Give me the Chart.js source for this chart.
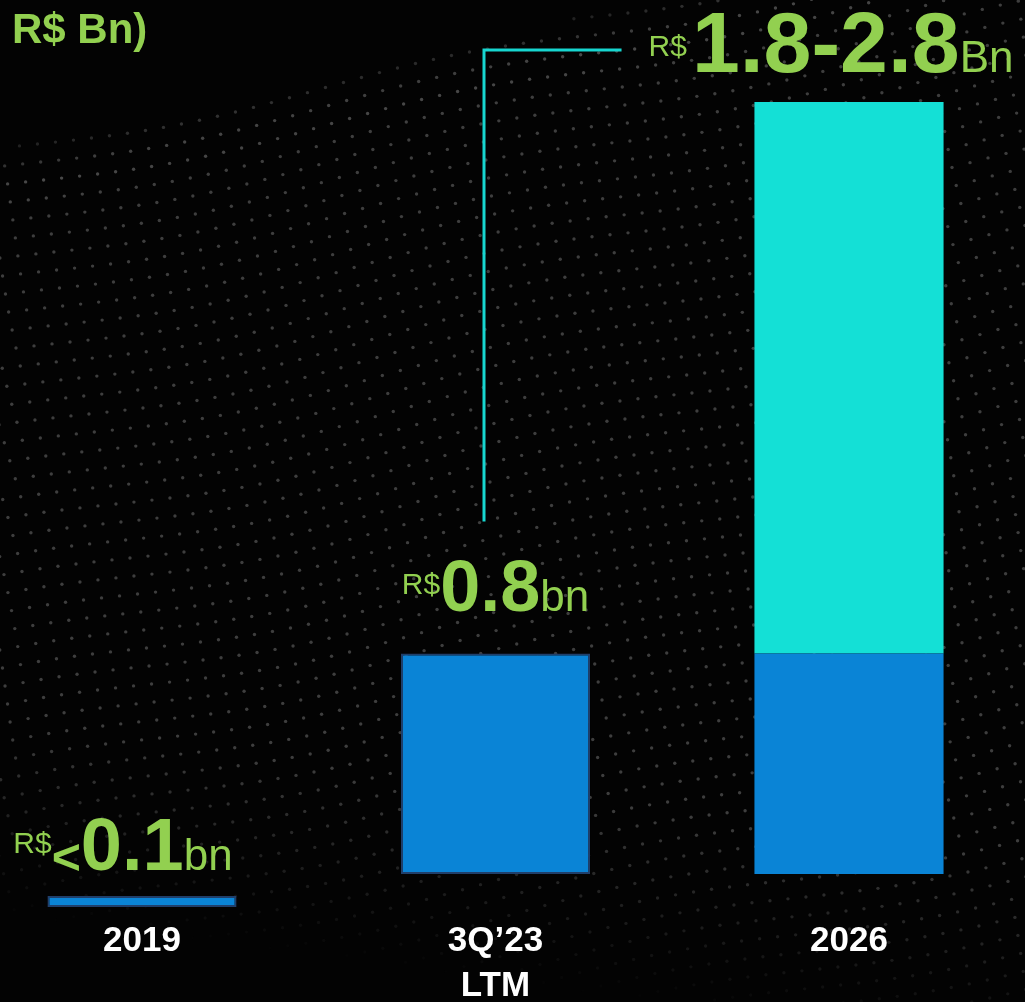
<!DOCTYPE html>
<html>
<head>
<meta charset="utf-8">
<title>Receita R$ Bn</title>
<script src="https://cdn.jsdelivr.net/npm/chart.js@4.4.1/dist/chart.umd.min.js"></script>
<style>
  html, body { margin: 0; padding: 0; background: #030303; }
  #wrap { position: relative; width: 1025px; height: 1002px; overflow: hidden; }
  #bg, #chart { position: absolute; left: 0; top: 0; }
</style>
</head>
<body>
<div id="wrap">
  <canvas id="bg" width="1025" height="1002"></canvas>
  <canvas id="chart" width="1025" height="1002"></canvas>
</div>
<script>
// Chart data
const categories = ['2019', ['3Q’23', 'LTM'], '2026'];
const actual = [0.04, 0.8, 0.8];
const rangeLow = [null, null, 1.8];
const rangeHigh = [null, null, 2.8];
const unitText = ['bn', 'bn', 'Bn'];
const floorNote = 0.1; // values under this are written as "<0.1"

const GREEN = '#92D050';
const BLUE = '#0A84D6';
const CYAN = '#14E0D6';
const NAVY = '#203F6B';
const FONT = '"Liberation Sans", Arial, sans-serif';

// two value axes stacked on top of each other, same px per unit
const mainBand = 772;
const lowBand = 33;
const yMax = Math.max(...rangeHigh.filter(v => v != null));
const lowMax = yMax * lowBand / mainBand;

const upside = rangeHigh.map((v, i) => v == null ? null : v - actual[i]);

// per-category label placement
const labelStyle = [
    { dx: -19, lift: 26, big: 74, raise: 17 },
    { dx: 0, lift: 42, big: 72, raise: 17 },
    { dx: -18, lift: 30, big: 86, raise: 16 }
];

// Dotted wave in the background
function drawBackdrop() {
    const c = document.getElementById('bg');
    const g = c.getContext('2d');
    g.fillStyle = '#030303';
    g.fillRect(0, 0, c.width, c.height);
    const step = 18;
    for (let j = -10; j < 75; j++) {
        for (let i = -10; i < 75; i++) {
            const x = i * step + j * 4 + 6 * Math.sin(j * 0.25);
            const y = j * step - i * 3.5 + 8 * Math.sin(i * 0.2);
            if (x < -5 || x > 1030 || y < -5 || y > 1007) continue;
            const edge = 150 - x * 0.23;
            const d = y - edge;
            if (d < 0) continue;
            let a = Math.min(1, d / 40) * 0.3;
            if (d < 70) a += 0.15 * (1 - d / 70);
            a *= Math.max(0, Math.min(1, (920 - y) / 200 + x / 1500));
            if (a <= 0.01) continue;
            g.fillStyle = `rgba(200,200,200,${a.toFixed(3)})`;
            g.beginPath();
            g.arc(x, y, 1.7, 0, Math.PI * 2);
            g.fill();
        }
    }
}

function labelParts(i) {
    const st = labelStyle[i];
    const parts = [{ text: 'R$', font: `30px ${FONT}`, raise: st.raise }];
    if (rangeHigh[i] != null) {
        parts.push({ gap: 5 });
        parts.push({ text: rangeLow[i].toFixed(1) + '-' + rangeHigh[i].toFixed(1), font: `bold ${st.big}px ${FONT}`, raise: 0 });
    } else if (actual[i] < floorNote) {
        parts.push({ text: '<', font: `bold 50px ${FONT}`, raise: -4 });
        parts.push({ text: floorNote.toFixed(1), font: `bold ${st.big}px ${FONT}`, raise: 0 });
    } else {
        parts.push({ text: actual[i].toFixed(1), font: `bold ${st.big}px ${FONT}`, raise: 0 });
    }
    parts.push({ text: unitText[i], font: `44px ${FONT}`, raise: 0 });
    return parts;
}

// Value labels, unit header and the connector line
const labelsPlugin = {
    id: 'valueLabels',
    afterDatasetsDraw(chart) {
        const ctx = chart.ctx;
        ctx.save();
        ctx.fillStyle = GREEN;
        ctx.textBaseline = 'alphabetic';
        ctx.textAlign = 'left';
        ctx.font = `bold 42px ${FONT}`;
        ctx.fillText('R$ Bn)', 12, 43);

        const placed = [];
        categories.forEach((cat, i) => {
            const bars = chart.data.datasets
                .map((ds, k) => ds.data[i] == null ? null : chart.getDatasetMeta(k).data[i])
                .filter(Boolean);
            const top = Math.min(...bars.map(b => b.y));
            const cx = bars[0].x + labelStyle[i].dx;
            const baseline = top - labelStyle[i].lift;
            const parts = labelParts(i);
            let total = 0;
            parts.forEach(p => {
                if (p.gap) { p.w = p.gap; } else { ctx.font = p.font; p.w = ctx.measureText(p.text).width; }
                total += p.w;
            });
            let x = cx - total / 2;
            const startX = x;
            parts.forEach(p => {
                if (!p.gap) {
                    ctx.font = p.font;
                    ctx.fillText(p.text, x, baseline - p.raise);
                }
                x += p.w;
            });
            placed.push({ startX, baseline, barX: bars[0].x });
        });

        // line linking the current figure to the 2026 target
        const from = placed[1];
        const to = placed[2];
        const lx = from.barX - 11.5;
        ctx.strokeStyle = '#17D6D0';
        ctx.lineWidth = 3;
        ctx.beginPath();
        ctx.moveTo(lx, from.baseline - 90);
        ctx.lineTo(lx, to.baseline - 22);
        ctx.lineTo(to.startX - 27, to.baseline - 22);
        ctx.stroke();
        ctx.restore();
    }
};

function start() {
    drawBackdrop();
    Chart.defaults.font.family = FONT;

    const ctx = document.getElementById('chart').getContext('2d');
    new Chart(ctx, {
        type: 'bar',
        data: {
            labels: categories,
            datasets: [{
                label: 'small',
                data: actual.map(v => v < floorNote ? v : null),
                yAxisID: 'y2',
                backgroundColor: BLUE,
                borderColor: NAVY,
                borderWidth: 2,
                borderSkipped: false
            }, {
                label: 'actual',
                data: actual.map(v => v >= floorNote ? v : null),
                yAxisID: 'y',
                backgroundColor: BLUE,
                borderColor: NAVY,
                borderWidth: c => rangeHigh[c.dataIndex] == null ? 2 : 0,
                borderSkipped: false
            }, {
                label: 'upside',
                data: upside,
                yAxisID: 'y',
                backgroundColor: CYAN,
                borderWidth: 0
            }]
        },
        options: {
            responsive: false,
            animation: false,
            layout: { padding: { left: 142, right: 176, top: 102, bottom: 0 } },
            datasets: { bar: { barPercentage: 0.535, categoryPercentage: 1, clip: false } },
            plugins: { legend: { display: false }, tooltip: { enabled: false } },
            scales: {
                x: {
                    stacked: true,
                    offset: false,
                    grid: { display: false, drawTicks: false },
                    border: { display: false },
                    ticks: {
                        color: '#ffffff',
                        font: { size: 35, weight: 'bold', lineHeight: 1.29 },
                        padding: 12,
                        maxRotation: 0,
                        autoSkip: false
                    },
                    afterFit: s => { s.height = 95; }
                },
                y: {
                    type: 'linear',
                    display: false,
                    stacked: true,
                    stack: 'v',
                    stackWeight: mainBand,
                    weight: 2,
                    min: 0,
                    max: yMax
                },
                y2: {
                    type: 'linear',
                    position: 'left',
                    display: false,
                    stacked: true,
                    stack: 'v',
                    stackWeight: lowBand,
                    weight: 1,
                    min: 0,
                    max: lowMax
                }
            }
        },
        plugins: [labelsPlugin]
    });
}

window.addEventListener('load', start, false);
</script>
</body>
</html>
